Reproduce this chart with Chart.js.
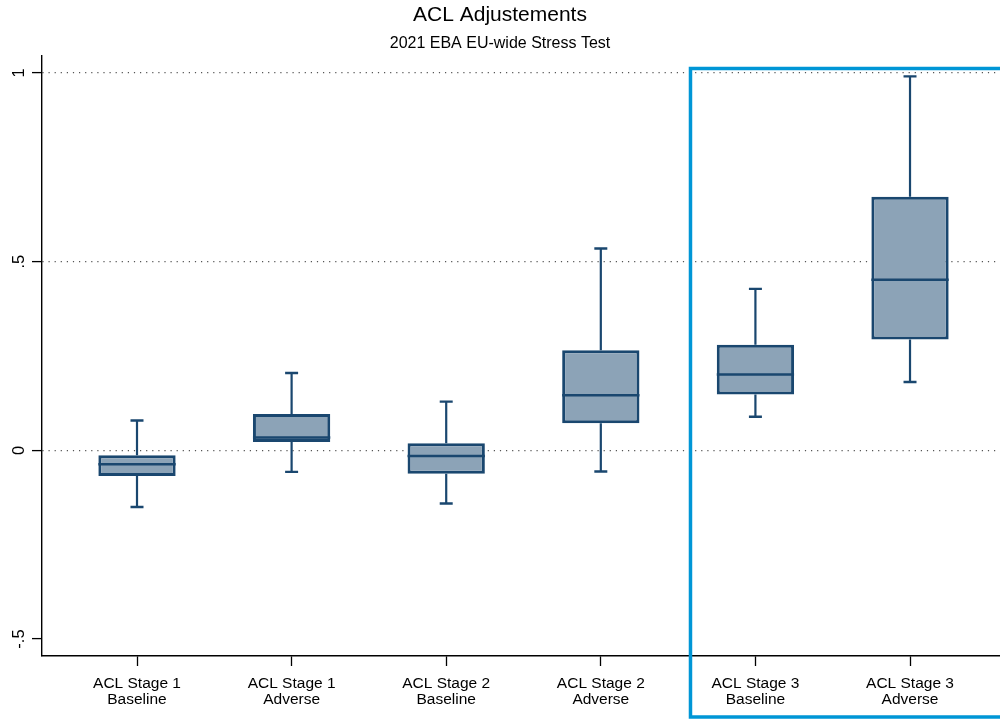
<!DOCTYPE html>
<html>
<head>
<meta charset="utf-8">
<script src="https://cdn.jsdelivr.net/npm/chart.js@4"></script>
<style>
  html, body { margin: 0; padding: 0; background: #fff; }
  #wrap { width: 1000px; height: 719px; position: relative; }
</style>
</head>
<body>
<div id="wrap"><canvas id="c"></canvas></div>
<script>
// Box plot summary per group: lower whisker, first quartile, median, third quartile, upper whisker
const categories = [
  ['ACL Stage 1', 'Baseline'],
  ['ACL Stage 1', 'Adverse'],
  ['ACL Stage 2', 'Baseline'],
  ['ACL Stage 2', 'Adverse'],
  ['ACL Stage 3', 'Baseline'],
  ['ACL Stage 3', 'Adverse']
];
const whiskerLow  = [-0.150, -0.057, -0.141, -0.056, 0.089, 0.181];
const q1          = [-0.068,  0.022, -0.062,  0.072, 0.148, 0.294];
const median      = [-0.037,  0.034, -0.015,  0.146, 0.201, 0.452];
const q3          = [-0.013,  0.096,  0.019,  0.265, 0.280, 0.672];
const whiskerHigh = [ 0.079,  0.205,  0.129,  0.535, 0.428, 0.991];

const yTickValues = [-0.5, 0, 0.5, 1];
const yTickLabels = ['-.5', '0', '.5', '1'];

const NAVY = '#1A476F';
const BOX_FILL = '#8CA3B7';
const HIGHLIGHT = '#0096D6';
const FONT = "'Liberation Sans', Arial, Helvetica, sans-serif";

const positions = categories.map((_, i) => i + 1);

// Boxes as floating bars from Q1 to Q3
const boxData = positions.map((x, i) => ({ x, y: [q1[i], q3[i]] }));

// Whisker stems, separated by gaps
const stemData = [];
positions.forEach((x, i) => {
  stemData.push({ x, y: q3[i] }, { x, y: whiskerHigh[i] }, { x, y: null });
  stemData.push({ x, y: q1[i] }, { x, y: whiskerLow[i] }, { x, y: null });
});

// Whisker caps
const CAP = 0.042;
const capData = [];
positions.forEach((x, i) => {
  capData.push({ x: x - CAP, y: whiskerHigh[i] }, { x: x + CAP, y: whiskerHigh[i] }, { x, y: null });
  capData.push({ x: x - CAP, y: whiskerLow[i] }, { x: x + CAP, y: whiskerLow[i] }, { x, y: null });
});

// Median lines across each box
const HALF = 0.25;
const medianData = [];
positions.forEach((x, i) => {
  medianData.push({ x: x - HALF, y: median[i] }, { x: x + HALF, y: median[i] }, { x, y: null });
});

// Rotated y tick labels, reading bottom to top
const yLabelPlugin = {
  id: 'yLabels',
  afterDraw(chart) {
    const ys = chart.scales.y;
    const ctx = chart.ctx;
    ctx.save();
    ctx.fillStyle = '#000';
    ctx.font = '16.5px ' + FONT;
    ctx.textAlign = 'center';
    ctx.textBaseline = 'alphabetic';
    yTickValues.forEach((v, i) => {
      const py = ys.getPixelForValue(v);
      ctx.save();
      ctx.translate(23.5, py);
      ctx.rotate(-Math.PI / 2);
      ctx.fillText(yTickLabels[i], 0, 0);
      ctx.restore();
    });
    ctx.restore();
  }
};

// Frame around the Stage 3 groups
const highlightPlugin = {
  id: 'stage3Frame',
  afterDraw(chart) {
    const xs = chart.scales.x;
    const ys = chart.scales.y;
    const ctx = chart.ctx;
    const left = xs.getPixelForValue(4.58);
    const top = ys.getPixelForValue(1.012);
    ctx.save();
    ctx.strokeStyle = HIGHLIGHT;
    ctx.lineWidth = 3.5;
    ctx.beginPath();
    ctx.moveTo(chart.width + 10, top);
    ctx.lineTo(left, top);
    ctx.lineTo(left, chart.height - 2);
    ctx.lineTo(chart.width + 10, chart.height - 2);
    ctx.stroke();
    ctx.restore();
  }
};

new Chart(document.getElementById('c'), {
  type: 'bar',
  data: {
    datasets: [
      {
        type: 'line',
        data: stemData,
        borderColor: NAVY,
        borderWidth: 2.2,
        pointRadius: 0,
        spanGaps: false,
        order: 2
      },
      {
        type: 'line',
        data: capData,
        borderColor: NAVY,
        borderWidth: 2.4,
        pointRadius: 0,
        spanGaps: false,
        order: 2
      },
      {
        type: 'bar',
        data: boxData,
        backgroundColor: BOX_FILL,
        borderColor: NAVY,
        borderWidth: 3,
        borderSkipped: false,
        barPercentage: 0.5,
        categoryPercentage: 1,
        order: 1
      },
      {
        type: 'line',
        data: medianData,
        borderColor: NAVY,
        borderWidth: 2.4,
        pointRadius: 0,
        spanGaps: false,
        order: 0
      }
    ]
  },
  options: {
    responsive: true,
    maintainAspectRatio: false,
    animation: false,
    events: [],
    layout: { padding: { left: 0, right: 0, top: 0, bottom: 0 } },
    plugins: {
      legend: { display: false },
      tooltip: { enabled: false },
      title: {
        display: true,
        text: 'ACL Adjustements',
        color: '#000',
        font: { family: FONT, size: 21, weight: 'normal', lineHeight: 1.2 },
        padding: { top: 2.4, bottom: 6.8 }
      },
      subtitle: {
        display: true,
        text: '2021 EBA EU-wide Stress Test',
        color: '#000',
        font: { family: FONT, size: 16, weight: 'normal', lineHeight: 1.2 },
        padding: { top: 0, bottom: 2.4 }
      }
    },
    scales: {
      x: {
        type: 'linear',
        min: 0.3855,
        max: 6.582,
        offset: false,
        afterBuildTicks(scale) {
          scale.ticks = positions.map(v => ({ value: v }));
        },
        afterFit(scale) { scale.height = 63; },
        ticks: {
          autoSkip: false,
          maxRotation: 0,
          minRotation: 0,
          padding: 10,
          color: '#000',
          font: { family: FONT, size: 15.5, lineHeight: 1.0 },
          callback: (v) => categories[Math.round(v) - 1]
        },
        grid: {
          display: true,
          offset: false,
          drawOnChartArea: false,
          drawTicks: true,
          tickLength: 10,
          tickColor: '#000',
          tickWidth: 1.3,
          color: '#000'
        },
        border: { display: true, color: '#000', width: 1.4 }
      },
      y: {
        type: 'linear',
        min: -0.545,
        max: 1.045,
        afterBuildTicks(scale) {
          scale.ticks = yTickValues.map(v => ({ value: v }));
        },
        afterFit(scale) { scale.width = 42; },
        ticks: { display: false },
        grid: {
          display: true,
          drawOnChartArea: true,
          drawTicks: true,
          tickLength: 10,
          tickColor: '#000',
          tickWidth: 1.3,
          lineWidth: 1.2,
          color: (ctx) => (ctx.tick && ctx.tick.value === -0.5) ? 'rgba(0,0,0,0)' : '#555'
        },
        border: { display: true, color: '#000', width: 1.4, dash: [1.2, 4.9] }
      }
    }
  },
  plugins: [yLabelPlugin, highlightPlugin]
});
</script>
</body>
</html>
